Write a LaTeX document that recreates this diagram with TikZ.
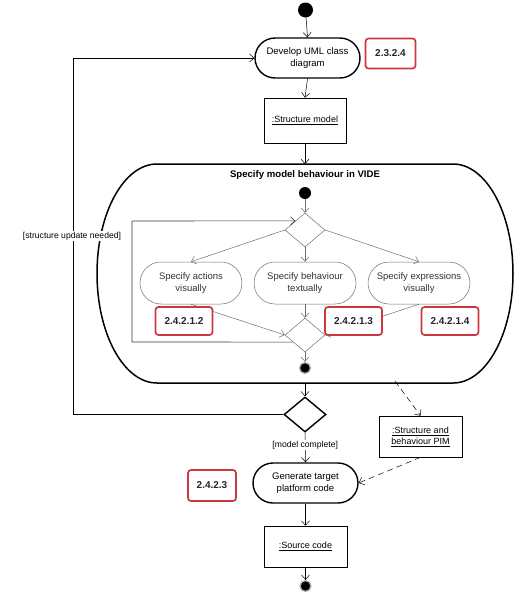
\documentclass[tikz,border=0pt]{standalone}
\usepackage{fontspec}
\setmainfont{Liberation Sans}
\usetikzlibrary{shapes.misc,shapes.geometric,arrows.meta,calc}
\definecolor{tagred}{RGB}{205,55,60}
\definecolor{subgray}{RGB}{110,110,110}
\begin{document}
\begin{tikzpicture}[x=1pt,y=-1pt,
  mainact/.style={rounded rectangle, draw, line width=1.4pt, minimum width=107pt, minimum height=40pt, align=center, font=\fontsize{9.5}{11.5}\selectfont, inner sep=1pt},
  subact/.style={rounded rectangle, draw=subgray, line width=0.5pt, minimum width=104pt, minimum height=42pt, align=center, font=\fontsize{9.5}{11.5}\selectfont, text=black!80, inner sep=1pt},
  objbox/.style={rectangle, draw, line width=0.6pt, minimum width=82pt, minimum height=41pt, align=center, font=\fontsize{9}{11}\selectfont, inner sep=1pt},
  tagbox/.style={rectangle, draw=tagred, line width=1.7pt, rounded corners=3pt, fill=white, font=\bfseries\fontsize{10}{12}\selectfont, text=black!85, minimum width=57pt, minimum height=28pt, inner sep=1pt},
  decis/.style={diamond, draw, inner sep=0pt, minimum width=41pt, minimum height=35pt},
  flow/.style={-{Straight Barb[length=4.5pt,width=8pt]}, line width=0.5pt},
  subflow/.style={flow, draw=subgray},
  objflow/.style={flow, dashed, dash pattern=on 6pt off 4pt},
  guard/.style={fill=white, inner sep=1pt, font=\fontsize{8.6}{10}\selectfont},
  startdot/.style={circle, fill=black, inner sep=0pt, minimum size=#1},
  enddot/.style={circle, fill=black, draw=gray!60, line width=1.3pt, inner sep=0pt, minimum size=11pt}
]
\useasboundingbox (0,0) rectangle (525,600);

% top flow
\node[startdot=15pt] (init) at (305.5,10) {};
\node[mainact] (dev) at (307.5,58) {Develop UML class\\diagram};
\node[tagbox, minimum width=50pt, minimum height=30pt] (t1) at (390.5,53.5) {2.3.2.4};
\node[objbox, minimum height=45pt] (sm) at (305,120.5) {\underline{:Structure model}};

% region
\node[minimum width=416pt, minimum height=219pt, inner sep=0pt] (vide) at (305,273.5) {};
\draw[line width=1.5pt] (157,164) -- (453,164)
  .. controls (486.1,164) and (513,213) .. (513,273.5)
  .. controls (513,334) and (486.1,383) .. (453,383)
  -- (157,383)
  .. controls (123.9,383) and (97,334) .. (97,273.5)
  .. controls (97,213) and (123.9,164) .. cycle;
\node[font=\bfseries\fontsize{9.6}{11}\selectfont] (title) at (305,175) {Specify model behaviour in VIDE};

\node[startdot=12pt] (iinit) at (305,193) {};
\node[decis, draw=subgray, line width=0.5pt, minimum width=40pt, minimum height=34pt] (td) at (305,230) {};
\node[subact] (sa) at (191,283) {Specify actions\\visually};
\node[subact] (sb) at (305,283) {Specify behaviour\\textually};
\node[subact] (sc) at (419,283) {Specify expressions\\visually};
\node[decis, draw=subgray, line width=0.5pt, minimum width=40pt, minimum height=34pt] (bd) at (305,335) {};
\node[enddot] (ifin) at (305,368) {};

\draw[subflow] (iinit) -- (td.north);
\draw[subflow] (td.west) -- (sa.north);
\draw[subflow] (td.south) -- (sb.north);
\draw[subflow] (td.east) -- (sc.north);
\draw[subflow] (sa.south) -- (bd.west);
\draw[subflow] (sb.south) -- (bd.north);
\draw[subflow] (sc.south) -- (bd.east);
\draw[subflow] (bd.south) -- (ifin);
\coordinate (lb) at (132,342);
\coordinate (lt) at (132,221);
\draw[line width=0.6pt, draw=black!80] ($(bd.west)!0.41!(bd.south)$) -- (lb) -- (lt);
\draw[subflow, draw=black!80, line width=0.6pt] (lt) -- ($(td.west)!0.53!(td.north)$);

\node[tagbox] (t2) at (184,321) {2.4.2.1.2};
\node[tagbox] (t3) at (353.5,321) {2.4.2.1.3};
\node[tagbox] (t4) at (450,321) {2.4.2.1.4};

% lower flow
\node[decis, line width=1.4pt, minimum width=42pt, minimum height=35pt] (dec) at (305,414.5) {};
\node[objbox, minimum width=83pt] (pim) at (420.5,436.5) {\underline{:Structure and}\\\underline{behaviour PIM}};
\node[mainact] (gen) at (305.5,483) {Generate target\\platform code};
\node[tagbox, minimum width=48pt, minimum height=31pt] (t5) at (212,485.5) {2.4.2.3};
\node[objbox, minimum width=83pt] (src) at (305.5,546.5) {\underline{:Source code}};
\node[enddot] (fin) at (305.5,586) {};

\draw[flow] (init) -- (dev.north);
\draw[flow] (dev.south) -- (sm.north);
\draw[flow] (sm.south) -- (vide.south |- 0,164);
\draw[flow] (vide.south) -- (dec.north);
\coordinate (loopc) at (73,414.5);
\draw[flow] (dec.west) -- (loopc) |- (dev.west);
\node[guard] (g1) at (72,236) {[structure update needed]};
\draw[flow] (dec.south) -- node[guard, pos=0.42] (g2) {[model complete]} (gen.north);
\coordinate (vbr) at (395,381);
\draw[objflow] (vbr) -- (pim.north);
\draw[objflow] (pim.south) -- (gen.east);
\draw[flow] (gen.south) -- (src.north);
\draw[flow] (src.south) -- (fin);
\end{tikzpicture}
\end{document}
